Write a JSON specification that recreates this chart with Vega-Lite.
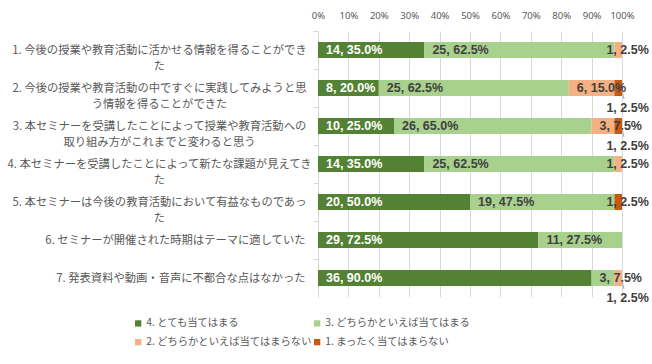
{
  "$schema": "https://vega.github.io/schema/vega-lite/v6.json",
  "width": 304,
  "height": 266,
  "autosize": {"type": "none"},
  "padding": {"left": 318, "top": 31, "right": 30, "bottom": 67},
  "background": "white",
  "data": {
    "values": [
      {"q": "1. 今後の授業や教育活動に活かせる情報を得ることができた", "cat": "4. とても当てはまる", "n": 14},
      {"q": "1. 今後の授業や教育活動に活かせる情報を得ることができた", "cat": "3. どちらかといえば当てはまる", "n": 25},
      {"q": "1. 今後の授業や教育活動に活かせる情報を得ることができた", "cat": "2. どちらかといえば当てはまらない", "n": 1},
      {"q": "2. 今後の授業や教育活動の中ですぐに実践してみようと思う情報を得ることができた", "cat": "4. とても当てはまる", "n": 8},
      {"q": "2. 今後の授業や教育活動の中ですぐに実践してみようと思う情報を得ることができた", "cat": "3. どちらかといえば当てはまる", "n": 25},
      {"q": "2. 今後の授業や教育活動の中ですぐに実践してみようと思う情報を得ることができた", "cat": "2. どちらかといえば当てはまらない", "n": 6},
      {"q": "2. 今後の授業や教育活動の中ですぐに実践してみようと思う情報を得ることができた", "cat": "1. まったく当てはまらない", "n": 1},
      {"q": "3. 本セミナーを受講したことによって授業や教育活動への取り組み方がこれまでと変わると思う", "cat": "4. とても当てはまる", "n": 10},
      {"q": "3. 本セミナーを受講したことによって授業や教育活動への取り組み方がこれまでと変わると思う", "cat": "3. どちらかといえば当てはまる", "n": 26},
      {"q": "3. 本セミナーを受講したことによって授業や教育活動への取り組み方がこれまでと変わると思う", "cat": "2. どちらかといえば当てはまらない", "n": 3},
      {"q": "3. 本セミナーを受講したことによって授業や教育活動への取り組み方がこれまでと変わると思う", "cat": "1. まったく当てはまらない", "n": 1},
      {"q": "4. 本セミナーを受講したことによって新たな課題が見えてきた", "cat": "4. とても当てはまる", "n": 14},
      {"q": "4. 本セミナーを受講したことによって新たな課題が見えてきた", "cat": "3. どちらかといえば当てはまる", "n": 25},
      {"q": "4. 本セミナーを受講したことによって新たな課題が見えてきた", "cat": "2. どちらかといえば当てはまらない", "n": 1},
      {"q": "5. 本セミナーは今後の教育活動において有益なものであった", "cat": "4. とても当てはまる", "n": 20},
      {"q": "5. 本セミナーは今後の教育活動において有益なものであった", "cat": "3. どちらかといえば当てはまる", "n": 19},
      {"q": "5. 本セミナーは今後の教育活動において有益なものであった", "cat": "1. まったく当てはまらない", "n": 1},
      {"q": "6. セミナーが開催された時期はテーマに適していた", "cat": "4. とても当てはまる", "n": 29},
      {"q": "6. セミナーが開催された時期はテーマに適していた", "cat": "3. どちらかといえば当てはまる", "n": 11},
      {"q": "7. 発表資料や動画・音声に不都合な点はなかった", "cat": "4. とても当てはまる", "n": 36},
      {"q": "7. 発表資料や動画・音声に不都合な点はなかった", "cat": "3. どちらかといえば当てはまる", "n": 3},
      {"q": "7. 発表資料や動画・音声に不都合な点はなかった", "cat": "2. どちらかといえば当てはまらない", "n": 1}
    ]
  },
  "transform": [
    {"joinaggregate": [{"op": "sum", "field": "n", "as": "total"}], "groupby": ["q"]},
    {"stack": "n", "groupby": ["q"], "sort": [{"field": "cat", "order": "descending"}], "as": ["s0", "s1"]},
    {"calculate": "datum.s0 / datum.total", "as": "p0"},
    {"calculate": "datum.s1 / datum.total", "as": "p1"},
    {"calculate": "datum.n / datum.total < 0.2 ? 1 : 0", "as": "isSmall"},
    {"joinaggregate": [{"op": "sum", "field": "isSmall", "as": "nSmall"}], "groupby": ["q"]},
    {"calculate": "datum.n + ', ' + format(datum.n / datum.total, '.1%')", "as": "lbl"},
    {"calculate": "datum.n / datum.total < 0.05 ? (datum.nSmall >= 2 ? 'below' : 'end') : 'base'", "as": "place"}
  ],
  "encoding": {
    "y": {
      "field": "q",
      "type": "nominal",
      "sort": null,
      "scale": {"paddingInner": 0.58, "paddingOuter": 0.29},
      "axis": {
        "title": null,
        "labelExpr": "length(datum.label) > 28 ? (length(datum.label) <= 30 ? [substring(datum.label, 0, length(datum.label) - 1), substring(datum.label, length(datum.label) - 1)] : [substring(datum.label, 0, 28), substring(datum.label, 28)]) : datum.label",
        "labelAlign": {"condition": {"test": "length(datum.value) > 28", "value": "center"}, "value": "right"},
        "labelPadding": {"condition": {"test": "length(datum.value) > 28", "value": 154}, "value": 8},
        "labelFont": "Noto Sans CJK JP",
        "labelFontSize": 11.3,
        "labelColor": "#595959",
        "labelLineHeight": 16,
        "labelLimit": 400,
        "domainColor": "#D9D9D9",
        "tickColor": "#D9D9D9",
        "tickSize": 5,
        "tickOffset": -19,
        "labelOffset": 19,
        "grid": false
      }
    },
    "x": {
      "field": "p0",
      "type": "quantitative",
      "scale": {"domain": [0, 1], "nice": false},
      "axis": {
        "orient": "top",
        "title": null,
        "format": "%",
        "values": [0, 0.1, 0.2, 0.3, 0.4, 0.5, 0.6, 0.7, 0.8, 0.9, 1],
        "labelOverlap": false,
        "labelFlush": false,
        "domain": false,
        "ticks": false,
        "grid": true,
        "gridColor": "#D9D9D9",
        "labelFont": "Noto Sans",
        "labelFontSize": 9.5,
        "labelColor": "#595959",
        "labelPadding": 11
      }
    }
  },
  "layer": [
    {
      "mark": {"type": "bar"},
      "encoding": {
        "x2": {"field": "p1"},
        "color": {
          "field": "cat",
          "type": "nominal",
          "scale": {
            "domain": ["4. とても当てはまる", "3. どちらかといえば当てはまる", "2. どちらかといえば当てはまらない", "1. まったく当てはまらない"],
            "range": ["#548235", "#A9D18E", "#F4B183", "#C55A11"]
          },
          "legend": {
            "title": null,
            "orient": "none",
            "legendX": -185,
            "legendY": 287,
            "direction": "horizontal",
            "columns": 2,
            "columnPadding": -10,
            "rowPadding": 8,
            "symbolType": "square",
            "symbolSize": 40,
            "symbolStrokeWidth": 0,
            "labelOffset": 3,
            "labelFont": "Noto Sans CJK JP",
            "labelFontSize": 10.3,
            "labelColor": "#595959",
            "labelLimit": 300
          }
        }
      }
    },
    {
      "transform": [{"filter": "datum.place === 'base'"}],
      "mark": {"type": "text", "align": "left", "baseline": "middle", "dx": 8, "font": "Liberation Sans", "fontSize": 12.5, "fontWeight": "bold"},
      "encoding": {
        "text": {"field": "lbl"},
        "color": {"condition": {"test": "substring(datum.cat, 0, 1) === '4'", "value": "#FFFFFF"}, "value": "#404040"}
      }
    },
    {
      "transform": [{"filter": "datum.place === 'end'"}],
      "mark": {"type": "text", "align": "left", "baseline": "middle", "dx": -8, "font": "Liberation Sans", "fontSize": 12.5, "fontWeight": "bold", "color": "#404040"},
      "encoding": {
        "text": {"field": "lbl"}
      }
    },
    {
      "transform": [{"filter": "datum.place === 'below'"}],
      "mark": {"type": "text", "align": "left", "baseline": "middle", "dx": -8, "dy": 20, "font": "Liberation Sans", "fontSize": 12.5, "fontWeight": "bold", "color": "#404040"},
      "encoding": {
        "text": {"field": "lbl"}
      }
    },
    {
      "transform": [{"filter": "datum.place === 'below'"}],
      "mark": {"type": "rule", "color": "#A6A6A6", "strokeWidth": 1, "yOffset": 3, "y2Offset": 11, "x2Offset": 2},
      "encoding": {
        "x": {"field": "p1", "type": "quantitative"},
        "x2": {"field": "p1"},
        "y2": {"field": "q"}
      }
    }
  ],
  "config": {
    "view": {"stroke": null}
  }
}
